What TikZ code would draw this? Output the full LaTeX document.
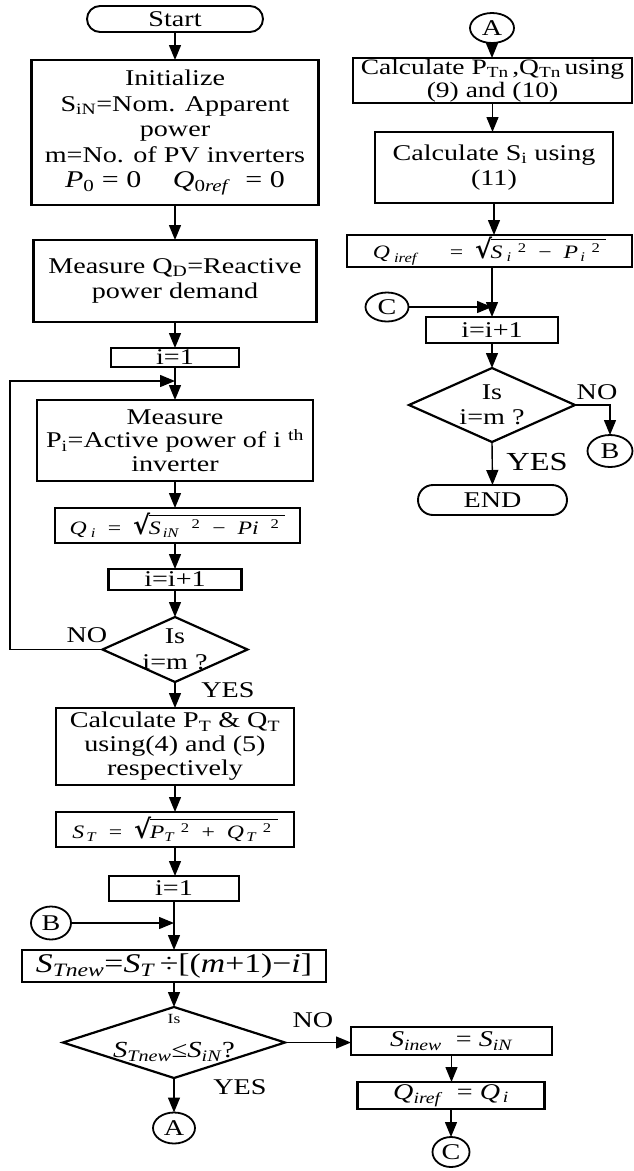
\documentclass[tikz,border=0pt]{standalone}
\usepackage{fontspec}
\setmainfont[FakeStretch=1.25]{Liberation Serif}
\newfontfamily\dvs{DejaVu Serif}
\usetikzlibrary{arrows.meta,shapes.geometric}
\newcommand\fq{\fontsize{19}{21}\selectfont}
\newcommand\fs{\fontsize{14}{16}\selectfont}
\newcommand\rad[1]{{\dvs\bfseries\fontsize{26}{26}\selectfont √}\kern-1.5pt\vbox{\hrule height 0.9pt\kern 2.5pt\hbox{\rule{0pt}{16pt}#1}}}
\begin{document}
\begin{tikzpicture}[x=1pt,y=-1pt,
  every node/.style={font=\fontsize{22.5}{25.5}\selectfont, inner sep=0pt, outer sep=0pt},
  box/.style={draw, line width=2.2pt, align=center},
  term/.style={draw, line width=1.9pt, rounded corners=13pt},
  dia/.style={draw, diamond, line width=2.2pt},
  conn/.style={draw, ellipse, line width=1.8pt},
  lab/.style={align=center},
  arr/.style={line width=1.4pt, -{Triangle[length=15pt,width=12pt]}},
  ln/.style={line width=1.4pt}]
\useasboundingbox (0,0) rectangle (634,1171);

% ---------- left column ----------
\node[term, minimum width=176pt, minimum height=26pt] (start) at (175,19) {Start};
\node[box, minimum width=287pt, minimum height=145pt] (init) at (175,132.5)
  {Initialize\\S\textsubscript{iN}=Nom. Apparent\\power\\m=No. of PV inverters\\
   {\fontsize{24}{25}\selectfont\textit{P}\textsubscript{0} = 0 \quad \textit{Q}\textsubscript{0\textit{ref}}\ \ = 0}};
\node[box, minimum width=283pt, minimum height=82pt] (measQ) at (175,281)
  {Measure Q\textsubscript{D}=Reactive\\power demand};
\node[box, minimum width=128pt, minimum height=19pt] (i1a) at (175,357.5) {i=1};
\node[box, minimum width=276pt, minimum height=81pt, font=\fontsize{22.5}{23.5}\selectfont] (measP) at (175,440.5)
  {Measure\\P\textsubscript{i}=Active power of i \textsuperscript{th}\\inverter};
\node[box, minimum width=245pt, minimum height=35pt, font=\fq] (qi) at (177.5,525.5)
  {\textit{Q}\textsubscript{\ \textit{i}}\ \ =\ \ \rad{\textit{S}\textsubscript{\,\textit{iN}}\ \ \textsuperscript{2}\ \ −\ \ \textit{Pi}\ \ \textsuperscript{2}\ }};
\node[box, minimum width=133pt, minimum height=21pt] (inc1) at (175,579.5) {i=i+1};
\node[dia, minimum width=145pt, minimum height=65pt] (dec1) at (175,649.5) {};
\node[lab] (dec1t) at (175,649.5) {Is\\i=m ?};
\node[box, minimum width=238pt, minimum height=77pt, font=\fontsize{22.5}{24}\selectfont] (calc) at (175,746.5)
  {Calculate P\textsubscript{T} \& Q\textsubscript{T}\\using(4) and (5)\\respectively};
\node[box, minimum width=238pt, minimum height=35pt, font=\fq] (st) at (175,829.5)
  {\textit{S}\textsubscript{\,\textit{T}}\ \ =\ \ \rad{\textit{P}\textsubscript{\textit{T}}\ \textsuperscript{2}\ \ +\ \ \textit{Q}\textsubscript{\,\textit{T}}\ \textsuperscript{2}\ }};
\node[box, minimum width=130pt, minimum height=25pt] (i1b) at (174,888.5) {i=1};
\node[conn, minimum width=40pt, minimum height=33pt] (B1) at (51,923) {B};
\coordinate (j2) at (174,923);
\node[box, minimum width=304pt, minimum height=32pt, font=\fontsize{27}{30}\selectfont] (stnew) at (174,966)
  {\textit{S}\textsubscript{\textit{Tnew}}=\textit{S}\textsubscript{\textit{T}}\,÷[(\textit{m}+1)−\textit{i}]};
\node[dia, minimum width=222pt, minimum height=71pt] (dec2) at (174,1042.5) {};
\node[font=\fs] (dec2a) at (174,1019) {Is};
\node[font=\fontsize{23}{25}\selectfont] (dec2b) at (174,1052)
  {\textit{S}\textsubscript{\textit{Tnew}}≤\textit{S}\textsubscript{\textit{iN}}?};
\node[conn, minimum width=42pt, minimum height=31pt] (A1) at (174,1128) {A};

\node[box, minimum width=201pt, minimum height=28pt] (sinew) at (451.5,1041)
  {\textit{S}\textsubscript{\textit{inew}}\ \ =\ \textit{S}\textsubscript{\textit{iN}}};
\node[box, minimum width=187pt, minimum height=27pt] (qiref2) at (451,1095.5)
  {\textit{Q}\textsubscript{\textit{iref}}\ \ =\ \textit{Q}\textsubscript{\,\textit{i}}};
\node[conn, minimum width=37pt, minimum height=30pt] (C1) at (451,1152) {C};

% ---------- right column ----------
\node[conn, minimum width=44pt, minimum height=30pt] (A2) at (492,28) {A};
\node[box, minimum width=279pt, minimum height=45pt, font=\fontsize{22}{23}\selectfont] (calcPT) at (492.5,80.5)
  {Calculate P\textsubscript{Tn}\,,Q\textsubscript{Tn}\,using\\(9) and (10)};
\node[box, minimum width=238pt, minimum height=71pt, font=\fontsize{22.5}{25}\selectfont] (calcS) at (494,167.5)
  {Calculate S\textsubscript{i} using\\(11)};
\node[box, minimum width=285pt, minimum height=32pt, font=\fq] (qiref) at (489.5,251)
  {\textit{Q}\textsubscript{\ \textit{iref}}\quad\ \ =\ \ \rad{\textit{S}\textsubscript{\ \textit{i}}\ \textsuperscript{2}\ \ −\ \ \textit{P}\textsubscript{\,\textit{i}}\ \textsuperscript{2}\ }};
\node[conn, minimum width=43pt, minimum height=29pt] (C2) at (387,307) {C};
\coordinate (j3) at (492,307);
\node[box, minimum width=132pt, minimum height=26pt] (inc2) at (492,330) {i=i+1};
\node[dia, minimum width=166pt, minimum height=74pt] (dec3) at (492,405) {};
\node[lab] (dec3t) at (492,405) {Is\\i=m ?};
\node[conn, minimum width=45pt, minimum height=32pt] (B2) at (610,451) {B};
\node[term, minimum width=149pt, minimum height=30pt, rounded corners=15pt] (endn) at (492.5,500) {END};

% ---------- labels ----------
\node (no1) at (87,635) {NO};
\node (yes1) at (228,690) {YES};
\node (no2) at (313,1020) {NO};
\node (yes2) at (240,1087) {YES};
\node (no3) at (597,392) {NO};
\node[font=\fontsize{26}{28}\selectfont] (yes3) at (537,462) {YES};

% ---------- connectors ----------
\coordinate (j1) at (175,381);
\coordinate (lp) at (10,0);
\draw[arr] (start.south) -- (start.south |- init.north);
\draw[arr] (init.south) -- (init.south |- measQ.north);
\draw[arr] (measQ.south) -- (measQ.south |- i1a.north);
\draw[arr] (i1a.south) -- (i1a.south |- measP.north);
\draw[arr] (measP.south) -- (measP.south |- qi.north);
\draw[arr] (qi.north -| measP.south) ++(0,35) coordinate (qib) -- (qib |- inc1.north);
\draw[arr] (inc1.south) -- (dec1.north);
\draw[arr] (dec1.west) -| (lp |- j1) -- (j1);
\draw[arr] (dec1.south) -- (dec1.south |- calc.north);
\draw[arr] (calc.south) -- (calc.south |- st.north);
\draw[arr] (st.south) -- (st.south |- i1b.north);
\draw[arr] (i1b.south) -- (i1b.south |- stnew.north);
\draw[arr] (B1.east) -- (j2);
\draw[arr] (stnew.south) -- (dec2.north);
\draw[arr] (dec2.south) -- (A1.north);
\draw[arr] (dec2.east) -- (dec2.east -| sinew.west);
\draw[arr] (sinew.south) -- (sinew.south |- qiref2.north);
\draw[arr] (qiref2.south) -- (C1.north);

\draw[arr] (A2.south) -- (A2.south |- calcPT.north);
\draw[arr] (calcPT.south) -- (calcPT.south |- calcS.north);
\draw[arr] (calcS.south) -- (calcS.south |- qiref.north);
\draw[arr] (qiref.south -| inc2.north) -- (inc2.north);
\draw[arr] (C2.east) -- (j3);
\draw[arr] (inc2.south) -- (dec3.north);
\draw[arr] (dec3.east) -| (B2.north);
\draw[arr] (dec3.south) -- (endn.north);
\end{tikzpicture}
\end{document}
